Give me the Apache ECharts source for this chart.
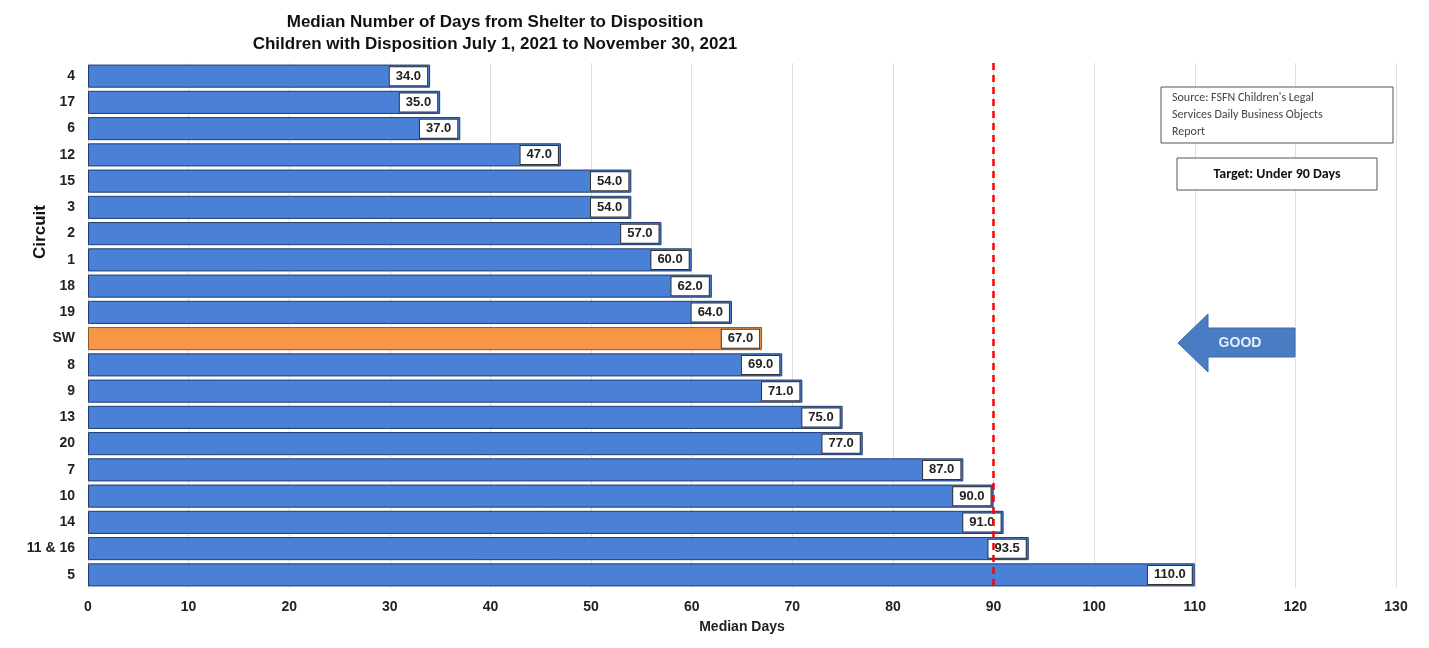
<!DOCTYPE html>
<html>
<head>
<meta charset="utf-8">
<script src="https://cdn.jsdelivr.net/npm/echarts@6/dist/echarts.min.js"></script>
<style>
html,body{margin:0;padding:0;background:#fff;}
#chart{width:1429px;height:648px;}
</style>
</head>
<body>
<div id="chart"></div>
<script>
var categories = ["4","17","6","12","15","3","2","1","18","19","SW","8","9","13","20","7","10","14","11 & 16","5"];
var values = [34,35,37,47,54,54,57,60,62,64,67,69,71,75,77,87,90,91,93.5,110];
var highlight = "SW";
var xTicks = {min:0, max:130, interval:10};
var target = 90;

var chart = echarts.init(document.getElementById('chart'));
var data = values.map(function(v, i){
  var hl = categories[i] === highlight;
  return {
    value: v,
    itemStyle: hl ? {color:'#F79646', borderColor:'#8a5a2a'} : {}
  };
});
var option = {
  animation:false,
  backgroundColor:'#ffffff',
  title:{
    text:'Median Number of Days from Shelter to Disposition\nChildren with Disposition July 1, 2021 to November 30, 2021',
    left:490, top:6, textAlign:'center',
    textStyle:{fontFamily:'Liberation Sans, Arial', fontWeight:'bold', fontSize:17, lineHeight:22, color:'#111'}
  },
  grid:{left:88, right:33, top:63, bottom:60, containLabel:false, outerBoundsMode:'none'},
  xAxis:{
    type:'value', min:xTicks.min, max:xTicks.max, interval:xTicks.interval,
    name:'Median Days', nameLocation:'middle', nameGap:32,
    nameTextStyle:{fontFamily:'Liberation Sans, Arial', fontWeight:'bold', fontSize:14, color:'#222'},
    axisLine:{show:false}, axisTick:{show:false},
    axisLabel:{fontFamily:'Liberation Sans, Arial', fontWeight:'bold', fontSize:14, color:'#222', margin:12},
    splitLine:{show:true, lineStyle:{color:'#dedede', width:1}}
  },
  yAxis:{
    type:'category', data:categories, inverse:true,
    axisLine:{show:false}, axisTick:{show:false},
    axisLabel:{fontFamily:'Liberation Sans, Arial', fontWeight:'bold', fontSize:14, color:'#222', margin:13}
  },
  series:[{
    type:'bar', data:data, barCategoryGap:'12%',
    itemStyle:{color:'#4A80D6', borderColor:'#1f3c70', borderWidth:1},
    label:{
      show:true, position:'insideRight', distance:3,
      formatter:function(p){return p.value.toFixed(1);},
      backgroundColor:'#ffffff', borderColor:'#333', borderWidth:1,
      padding:[3,6,2,6],
      fontFamily:'Liberation Sans, Arial', fontWeight:'bold', fontSize:13, color:'#222'
    },
    markLine:{
      silent:true, symbol:'none',
      lineStyle:{color:'#ff0000', type:[7,5], width:2.5},
      label:{show:false},
      data:[{xAxis:target}]
    },
    z:2
  }],
  graphic:[
    {type:'text', x:40, y:232, rotation:Math.PI/2, z:100,
     style:{text:'Circuit', textAlign:'center', textVerticalAlign:'middle',
       fontFamily:'Liberation Sans, Arial', fontWeight:'bold', fontSize:17, fill:'#111'}},
    {type:'rect', z:100, shape:{x:1161, y:87, width:232, height:56},
     style:{fill:'#fff', stroke:'#555', lineWidth:1}},
    {type:'text', z:101, left:1172, top:89,
     style:{text:"Source: FSFN Children's Legal\nServices Daily Business Objects\nReport",
       fontFamily:'Carlito, Liberation Sans', fontSize:12, lineHeight:17, fill:'#444'}},
    {type:'rect', z:100, shape:{x:1177, y:158, width:200, height:32},
     style:{fill:'#fff', stroke:'#555', lineWidth:1}},
    {type:'text', z:101, x:1277, y:174,
     style:{text:'Target: Under 90 Days', textAlign:'center', textVerticalAlign:'middle',
       fontFamily:'Carlito, Liberation Sans', fontWeight:'bold', fontSize:14, fill:'#111'}},
    {type:'polygon', z:100, shape:{points:[[1178,343],[1208,314],[1208,328],[1295,328],[1295,357],[1208,357],[1208,372]]},
     style:{fill:'#4A7CC4', stroke:'#3f6aa8', lineWidth:1}},
    {type:'text', z:101, x:1240, y:343,
     style:{text:'GOOD', textAlign:'center', textVerticalAlign:'middle',
       fontFamily:'Liberation Sans, Arial', fontWeight:'bold', fontSize:14, fill:'#e4eefc'}}
  ]
};
chart.setOption(option);
</script>
</body>
</html>
